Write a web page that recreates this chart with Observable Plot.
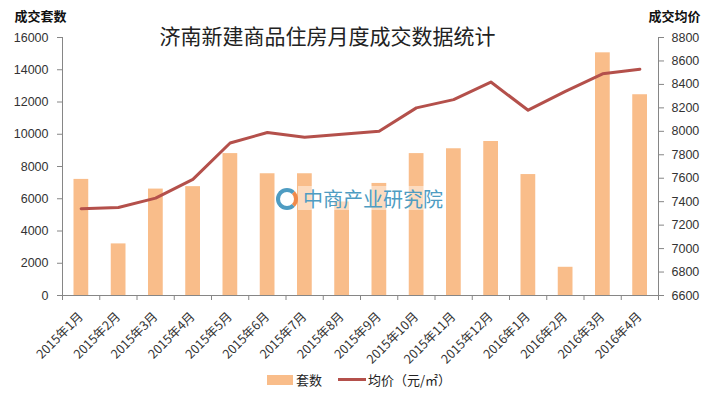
<!DOCTYPE html>
<html><head><meta charset="utf-8">
<script src="https://cdn.jsdelivr.net/npm/d3@7"></script>
<script src="https://cdn.jsdelivr.net/npm/@observablehq/plot@0.6"></script>
<style>
body{margin:0;background:#fff;font-family:"Noto Sans CJK SC","Liberation Sans",sans-serif;}
#wrap{position:relative;width:718px;height:395px;overflow:hidden;}
#chart{position:absolute;left:0;top:0;}
#legend{position:absolute;left:0;top:370px;width:718px;display:flex;justify-content:center;align-items:center;font-size:13px;color:#222;gap:0;}
#legend .sw{display:inline-block;width:26px;height:10px;background:#F9BD8A;margin-right:3px;}
#legend .ln{display:inline-block;width:28px;height:3px;background:#B4504B;margin:0 2px 0 16px;}
#wm{position:absolute;left:276px;top:184px;display:flex;align-items:center;font-size:20px;color:#4E9CC2;letter-spacing:0px;}
#wm .bg{position:absolute;left:22px;top:2px;width:146px;height:24px;background:rgba(255,255,255,0.45);}
#wm .logo{width:14px;height:14px;border-radius:50%;border:4px solid #4E9CC2;border-right-color:#F08A4B;margin-right:5px;position:relative;}
#wm span{position:relative;}
</style></head><body>
<div id="wrap">
<div id="chart"></div>
<div id="wm"><div class="bg"></div><div class="logo"></div><span>中商产业研究院</span></div>
<div id="legend"><span class="sw"></span><span>套数</span><span class="ln"></span><span>均价（元/㎡）</span></div>
</div>
<script>
const title = "济南新建商品住房月度成交数据统计";
const leftLabel = "成交套数";
const rightLabel = "成交均价";
const months = ["2015年1月","2015年2月","2015年3月","2015年4月","2015年5月","2015年6月","2015年7月","2015年8月","2015年9月","2015年10月","2015年11月","2015年12月","2016年1月","2016年2月","2016年3月","2016年4月"];
const units = [7200,3200,6600,6750,8800,7550,7550,5800,6950,8800,9100,9550,7500,1750,15050,12450];
const prices = [7340,7350,7430,7590,7900,7990,7950,7975,8000,8200,8270,8420,8180,8340,8490,8530];
const leftTicks = [0,2000,4000,6000,8000,10000,12000,14000,16000];
const rightTicks = [6600,6800,7000,7200,7400,7600,7800,8000,8200,8400,8600,8800];

const pMin = 6600, pMax = 8800, uMax = 16000;
const toY = p => (p - pMin) / (pMax - pMin) * uMax;
const fromY = y => Math.round(pMin + y / uMax * (pMax - pMin));

const rows = months.map((m, i) => ({i, m, u: units[i], p: toY(prices[i])}));
const gray = "#868686";
const fontNum = "'Liberation Sans', Arial, sans-serif";

const chart = Plot.plot({
  width: 718,
  height: 395,
  marginLeft: 62,
  marginRight: 60,
  marginTop: 37,
  marginBottom: 100,
  style: {fontFamily: "'Noto Sans CJK SC', sans-serif", fontSize: "12.5px", color: "#333", background: "#fff"},
  x: {type: "linear", domain: [0, months.length], axis: null},
  y: {domain: [0, uMax], axis: null},
  marks: [
    Plot.rectY(rows, {x1: d => d.i, x2: d => d.i + 1, y: "u", fill: "#F9BD8A", insetLeft: 11.5, insetRight: 11}),
    Plot.ruleX([0], {stroke: gray}),
    Plot.ruleX([months.length], {stroke: gray}),
    Plot.ruleY([0], {stroke: gray}),
    Plot.axisY(leftTicks, {anchor: "left", tickSize: 5, tickPadding: 9, tickFormat: d => String(d), stroke: gray, fontFamily: fontNum, fontSize: 12.5, fill: "#333", label: null}),
    Plot.axisY(rightTicks.map(toY), {anchor: "right", tickSize: 5, tickPadding: 8, tickFormat: d => String(fromY(d)), stroke: gray, fontFamily: fontNum, fontSize: 12.5, fill: "#333", label: null}),
    Plot.axisX(d3.range(months.length + 1), {anchor: "bottom", tickSize: 5, tickFormat: () => "", stroke: gray, label: null}),
    Plot.axisX(rows.map(d => d.i + 0.5), {anchor: "bottom", tickSize: 0, tickPadding: 19, tickRotate: -45, tickFormat: v => months[Math.floor(v)], fontSize: 12.5, fill: "#333", label: null}),
    Plot.line(rows, {x: d => d.i + 0.5, y: "p", stroke: "#B4504B", strokeWidth: 3}),
    Plot.text([title], {frameAnchor: "top", dx: -33, dy: 0, fontSize: 21, fill: "#222", lineAnchor: "middle"}),
    Plot.text([leftLabel], {frameAnchor: "top-left", dx: -48, dy: -21, fontSize: 13, fontWeight: "bold", fill: "#111", textAnchor: "start", lineAnchor: "middle"}),
    Plot.text([rightLabel], {frameAnchor: "top-right", dx: 42, dy: -21, fontSize: 13, fontWeight: "bold", fill: "#111", textAnchor: "end", lineAnchor: "middle"})
  ]
});
document.getElementById("chart").appendChild(chart);
</script>
</body></html>
